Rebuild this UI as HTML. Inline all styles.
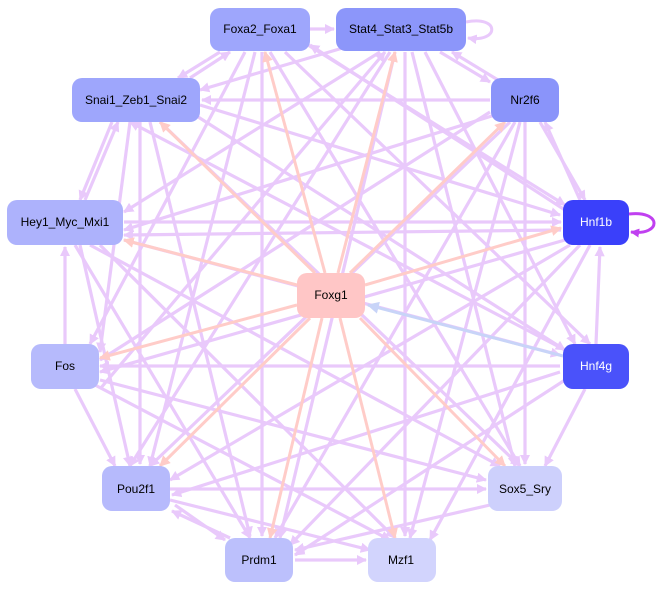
<!DOCTYPE html>
<html><head><meta charset="utf-8"><style>
html,body{margin:0;padding:0;background:#fff;}
svg{display:block;}
text{font-family:"Liberation Sans",sans-serif;font-size:12px;text-anchor:middle;dominant-baseline:central;}
</style></head><body>
<svg width="662" height="590" viewBox="0 0 662 590" xmlns="http://www.w3.org/2000/svg">
<defs>
<marker id="a" viewBox="0 0 10 10" refX="9" refY="5" markerWidth="3.2" markerHeight="3.2" orient="auto"><path d="M0,0L10,5L0,10z" fill="#e9c9fb"/></marker>
<marker id="p" viewBox="0 0 10 10" refX="9" refY="5" markerWidth="3.6" markerHeight="3.6" orient="auto"><path d="M0,0L10,5L0,10z" fill="#ffccc8"/></marker>
<marker id="b" viewBox="0 0 10 10" refX="9" refY="5" markerWidth="4" markerHeight="4" orient="auto"><path d="M0,0L10,5L0,10z" fill="#c8d4f8"/></marker>
<marker id="m" viewBox="0 0 10 10" refX="9" refY="5" markerWidth="3" markerHeight="3" orient="auto"><path d="M0,0L10,5L0,10z" fill="#c040f0"/></marker>
</defs>
<g stroke="#e9c9fb" stroke-width="3.2" fill="none" marker-end="url(#a)">
<!-- outer edges -->
<line x1="310" y1="29" x2="334" y2="29"/>
<line x1="220" y1="52" x2="178" y2="78"/>
<line x1="190" y1="78" x2="230" y2="52"/>
<line x1="440" y1="52" x2="490" y2="82"/>
<line x1="498" y1="80" x2="452" y2="52"/>
<line x1="490" y1="100" x2="202" y2="100"/>
<line x1="112" y1="122" x2="80" y2="200"/>
<line x1="85" y1="200" x2="118" y2="122"/>
<line x1="540" y1="122" x2="585" y2="200"/>
<line x1="580" y1="200" x2="545" y2="122"/>
<line x1="124" y1="222" x2="561" y2="222"/>
<line x1="561" y1="230" x2="124" y2="235"/>
<line x1="65" y1="344" x2="65" y2="247"/>
<line x1="596" y1="344" x2="600" y2="247"/>
<line x1="75" y1="389" x2="115" y2="466"/>
<line x1="585" y1="389" x2="545" y2="466"/>
<line x1="170" y1="489" x2="486" y2="489"/>
<line x1="170" y1="500" x2="370" y2="550"/>
<line x1="230" y1="538" x2="172" y2="511"/>
<line x1="175" y1="505" x2="225" y2="540"/>
<line x1="295" y1="560" x2="366" y2="560"/>
<line x1="245" y1="52" x2="90" y2="344"/>
<line x1="255" y1="52" x2="150" y2="466"/>
<line x1="262" y1="52" x2="262" y2="536"/>
<line x1="270" y1="52" x2="520" y2="466"/>
<line x1="285" y1="52" x2="590" y2="344"/>
<line x1="300" y1="40" x2="565" y2="205"/>
<line x1="390" y1="52" x2="130" y2="466"/>
<line x1="395" y1="52" x2="280" y2="538"/>
<line x1="405" y1="52" x2="405" y2="536"/>
<line x1="412" y1="52" x2="515" y2="466"/>
<line x1="425" y1="52" x2="575" y2="344"/>
<line x1="380" y1="52" x2="124" y2="212"/>
<line x1="370" y1="40" x2="200" y2="90"/>
<line x1="100" y1="389" x2="385" y2="52"/>
<line x1="130" y1="122" x2="100" y2="352"/>
<line x1="140" y1="122" x2="140" y2="464"/>
<line x1="150" y1="122" x2="250" y2="536"/>
<line x1="160" y1="122" x2="520" y2="466"/>
<line x1="195" y1="115" x2="565" y2="350"/>
<line x1="200" y1="105" x2="560" y2="215"/>
<line x1="510" y1="122" x2="150" y2="466"/>
<line x1="515" y1="122" x2="275" y2="538"/>
<line x1="520" y1="122" x2="410" y2="538"/>
<line x1="525" y1="122" x2="525" y2="464"/>
<line x1="495" y1="115" x2="124" y2="230"/>
<line x1="490" y1="112" x2="100" y2="360"/>
<line x1="124" y1="240" x2="560" y2="355"/>
<line x1="100" y1="245" x2="395" y2="538"/>
<line x1="90" y1="245" x2="500" y2="466"/>
<line x1="80" y1="245" x2="130" y2="466"/>
<line x1="75" y1="245" x2="250" y2="538"/>
<line x1="565" y1="240" x2="100" y2="372"/>
<line x1="570" y1="245" x2="170" y2="480"/>
<line x1="580" y1="245" x2="290" y2="545"/>
<line x1="590" y1="245" x2="430" y2="540"/>
<line x1="560" y1="366" x2="100" y2="366"/>
<line x1="560" y1="372" x2="172" y2="495"/>
<line x1="565" y1="380" x2="295" y2="555"/>
<line x1="100" y1="380" x2="486" y2="480"/>
<line x1="95" y1="385" x2="390" y2="540"/>
<line x1="490" y1="505" x2="295" y2="550"/>
<line x1="565" y1="210" x2="310" y2="45"/>
<line x1="565" y1="350" x2="130" y2="122"/>
</g>
<!-- Foxg1 edges -->
<g stroke="#ffccc8" stroke-width="3" fill="none" marker-end="url(#p)">
<line x1="315" y1="273" x2="160" y2="122"/>
<line x1="325" y1="273" x2="265" y2="52"/>
<line x1="338" y1="273" x2="395" y2="52"/>
<line x1="350" y1="273" x2="505" y2="122"/>
<line x1="365" y1="285" x2="561" y2="228"/>
<line x1="297" y1="285" x2="124" y2="240"/>
<line x1="297" y1="305" x2="100" y2="358"/>
<line x1="310" y1="318" x2="160" y2="466"/>
<line x1="322" y1="318" x2="270" y2="538"/>
<line x1="340" y1="318" x2="395" y2="538"/>
<line x1="360" y1="318" x2="505" y2="466"/>
</g>
<line x1="563" y1="356" x2="368" y2="305" stroke="#c8d4f8" stroke-width="3" marker-end="url(#b)"/>
<path d="M466,22 C500,15 500,43 468,38" stroke="#e9c9fb" stroke-width="3" fill="none" marker-end="url(#a)"/>
<path d="M629,214 C662,210 662,236 631,232" stroke="#c040f0" stroke-width="3" fill="none" marker-end="url(#m)"/>
<!-- nodes -->
<g>
<rect x="210" y="8" width="100" height="43" rx="10" fill="#9ea6fc"/><text x="260" y="29">Foxa2_Foxa1</text>
<rect x="336" y="8" width="130" height="43" rx="10" fill="#8c96fa"/><text x="401" y="29">Stat4_Stat3_Stat5b</text>
<rect x="72" y="78" width="128" height="44" rx="10" fill="#9ea6fc"/><text x="136" y="100">Snai1_Zeb1_Snai2</text>
<rect x="491" y="78" width="68" height="44" rx="10" fill="#8a94fa"/><text x="525" y="100">Nr2f6</text>
<rect x="7" y="200" width="116" height="45" rx="10" fill="#adb2fc"/><text x="65" y="222">Hey1_Myc_Mxi1</text>
<rect x="563" y="200" width="66" height="45" rx="10" fill="#3a40fa"/><text x="596" y="222" fill="#fff">Hnf1b</text>
<rect x="297" y="273" width="68" height="45" rx="10" fill="#ffc6c6"/><text x="331" y="295">Foxg1</text>
<rect x="31" y="344" width="68" height="45" rx="10" fill="#b6bafc"/><text x="65" y="366">Fos</text>
<rect x="563" y="344" width="66" height="45" rx="10" fill="#4a52fa"/><text x="596" y="366" fill="#fff">Hnf4g</text>
<rect x="102" y="466" width="68" height="45" rx="10" fill="#b6bafc"/><text x="136" y="489">Pou2f1</text>
<rect x="488" y="466" width="74" height="45" rx="10" fill="#cdd0fc"/><text x="525" y="489">Sox5_Sry</text>
<rect x="225" y="538" width="68" height="44" rx="10" fill="#bcc0fc"/><text x="259" y="560">Prdm1</text>
<rect x="368" y="538" width="68" height="44" rx="10" fill="#d2d4fd"/><text x="401" y="560">Mzf1</text>
</g>
</svg>
</body></html>
